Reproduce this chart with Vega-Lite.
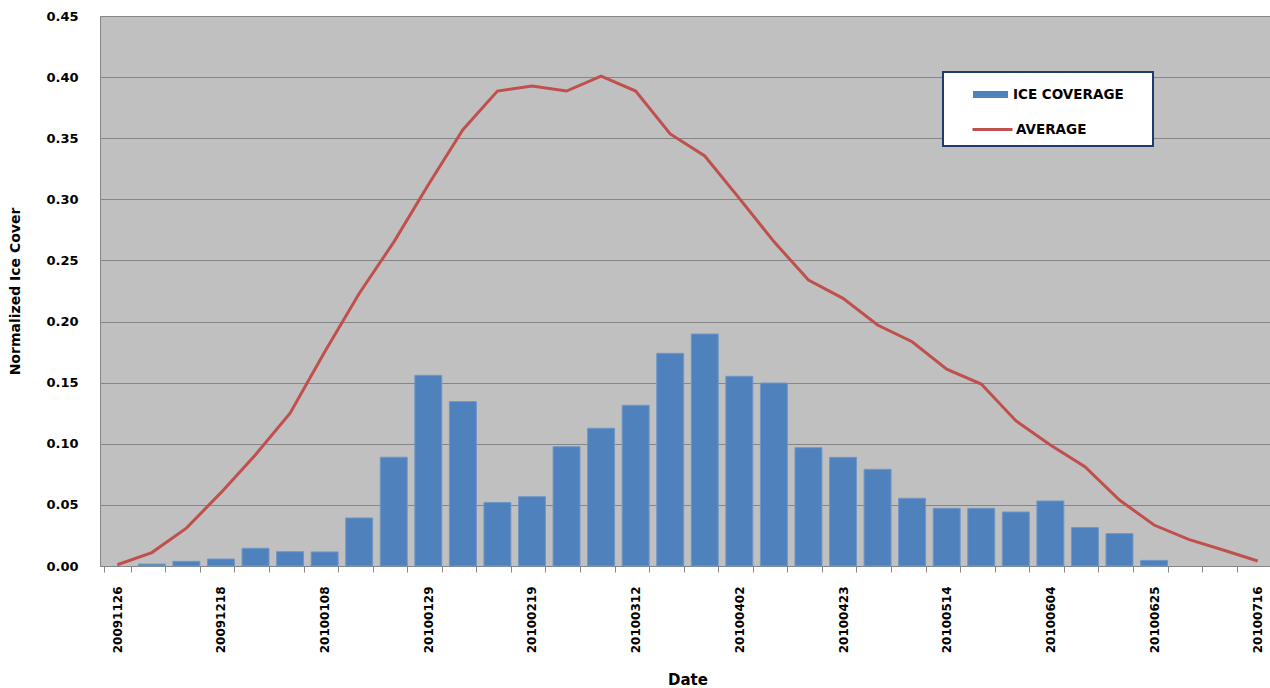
{
  "$schema": "https://vega.github.io/schema/vega-lite/v6.json",
  "autosize": {"type": "none"},
  "width": 1175,
  "height": 550,
  "padding": {"left": 100, "top": 16, "right": -5, "bottom": 122},
  "background": "white",
  "config": {
    "view": {"fill": "#C0C0C0", "stroke": null},
    "font": "DejaVu Sans",
    "axis": {
      "labelFont": "DejaVu Sans",
      "labelFontWeight": "bold",
      "labelColor": "#000000",
      "titleFont": "DejaVu Sans",
      "titleFontWeight": "bold",
      "titleColor": "#000000",
      "domainColor": "#868686",
      "tickColor": "#868686",
      "gridColor": "#868686"
    },
    "legend": {
      "orient": "none",
      "strokeWidth": 2,
      "labelFont": "DejaVu Sans",
      "labelFontWeight": "bold",
      "labelFontSize": 13.5,
      "labelColor": "#000000",
      "labelOffset": 5,
      "rowPadding": 0
    }
  },
  "resolve": {"scale": {"color": "independent"}, "legend": {"color": "independent"}},
  "data": {
    "values": [
      {"date": "20091126", "ice": 0, "avg": 0.001},
      {"date": "20091204", "ice": 0.0016, "avg": 0.011},
      {"date": "20091211", "ice": 0.0038, "avg": 0.031},
      {"date": "20091218", "ice": 0.0057, "avg": 0.060},
      {"date": "20091225", "ice": 0.0145, "avg": 0.091},
      {"date": "20100101", "ice": 0.0117, "avg": 0.125},
      {"date": "20100108", "ice": 0.0115, "avg": 0.175},
      {"date": "20100115", "ice": 0.0393, "avg": 0.223},
      {"date": "20100122", "ice": 0.089, "avg": 0.265},
      {"date": "20100129", "ice": 0.156, "avg": 0.312},
      {"date": "20100205", "ice": 0.1345, "avg": 0.357},
      {"date": "20100212", "ice": 0.052, "avg": 0.3886},
      {"date": "20100219", "ice": 0.0567, "avg": 0.3927},
      {"date": "20100226", "ice": 0.0976, "avg": 0.3886},
      {"date": "20100305", "ice": 0.1127, "avg": 0.4009},
      {"date": "20100312", "ice": 0.1315, "avg": 0.3886},
      {"date": "20100319", "ice": 0.174, "avg": 0.3535},
      {"date": "20100326", "ice": 0.1898, "avg": 0.3355},
      {"date": "20100402", "ice": 0.1552, "avg": 0.3008},
      {"date": "20100409", "ice": 0.1497, "avg": 0.2654},
      {"date": "20100416", "ice": 0.0968, "avg": 0.234},
      {"date": "20100423", "ice": 0.0889, "avg": 0.219},
      {"date": "20100430", "ice": 0.0791, "avg": 0.1972},
      {"date": "20100507", "ice": 0.0554, "avg": 0.1835},
      {"date": "20100514", "ice": 0.0472, "avg": 0.161},
      {"date": "20100521", "ice": 0.0472, "avg": 0.1489},
      {"date": "20100528", "ice": 0.0442, "avg": 0.1189},
      {"date": "20100604", "ice": 0.0532, "avg": 0.099},
      {"date": "20100611", "ice": 0.0314, "avg": 0.0813},
      {"date": "20100618", "ice": 0.0265, "avg": 0.054},
      {"date": "20100625", "ice": 0.0046, "avg": 0.0335},
      {"date": "20100702", "ice": 0, "avg": 0.0218},
      {"date": "20100709", "ice": 0, "avg": 0.0131},
      {"date": "20100716", "ice": 0, "avg": 0.0041}
    ]
  },
  "encoding": {
    "x": {
      "field": "date",
      "type": "ordinal",
      "sort": null,
      "scale": {"paddingInner": 0.22, "paddingOuter": 0.11},
      "axis": {
        "title": "Date",
        "titleFontSize": 15,
        "titleY": 113,
        "titleBaseline": "middle",
        "labelAngle": 270,
        "labelAlign": "right",
        "labelBaseline": "middle",
        "labelFontSize": 12,
        "labelPadding": 14,
        "labelOverlap": false,
        "tickSize": 6,
        "tickBand": "extent",
        "grid": false,
        "labelExpr": "indexof(['20091126','20091218','20100108','20100129','20100219','20100312','20100402','20100423','20100514','20100604','20100625','20100716'], datum.value) >= 0 ? datum.label : ''"
      }
    }
  },
  "layer": [
    {
      "mark": {"type": "bar", "stroke": "#7097C8", "strokeWidth": 1},
      "encoding": {
        "y": {
          "field": "ice",
          "type": "quantitative",
          "scale": {"domain": [0, 0.45], "nice": false},
          "axis": {
            "title": "Normalized Ice Cover",
            "titleFontSize": 14,
            "titleX": -85,
            "titleY": 275,
            "titleBaseline": "middle",
            "titleAlign": "center",
            "values": [0, 0.05, 0.1, 0.15, 0.2, 0.25, 0.3, 0.35, 0.4, 0.45],
            "format": ".2f",
            "labelFontSize": 13,
            "labelPadding": 22,
            "ticks": false,
            "grid": true
          }
        },
        "strokeOpacity": {"condition": {"test": "datum.ice > 0", "value": 1}, "value": 0},
        "color": {
          "datum": "ICE COVERAGE",
          "type": "nominal",
          "scale": {"domain": ["ICE COVERAGE"], "range": ["#4F81BD"]},
          "legend": {
            "legendX": 843,
            "legendY": 56,
            "fillColor": "white",
            "strokeColor": "#1F3B70",
            "padding": 5,
            "symbolType": "M-1,-0.2H1V0.2H-1Z",
            "symbolSize": 1225,
            "symbolStrokeWidth": 0,
            "symbolOffset": 25,
            "title": "MMMMMMMMMMMMMMMMMMMM",
            "titleColor": "white",
            "titleOrient": "bottom",
            "titleFontSize": 20,
            "titlePadding": 20,
            "titleLimit": 205,
            "titleAnchor": "start"
          }
        }
      }
    },
    {
      "mark": {"type": "line", "strokeWidth": 3},
      "encoding": {
        "y": {"field": "avg", "type": "quantitative"},
        "color": {
          "datum": "AVERAGE",
          "type": "nominal",
          "scale": {"domain": ["AVERAGE"], "range": ["#C0504D"]},
          "legend": {
            "title": null,
            "legendX": 871,
            "legendY": 92,
            "padding": 0,
            "labelOffset": 2,
            "symbolType": "stroke",
            "symbolSize": 1600,
            "symbolStrokeWidth": 3
          }
        }
      }
    }
  ]
}
